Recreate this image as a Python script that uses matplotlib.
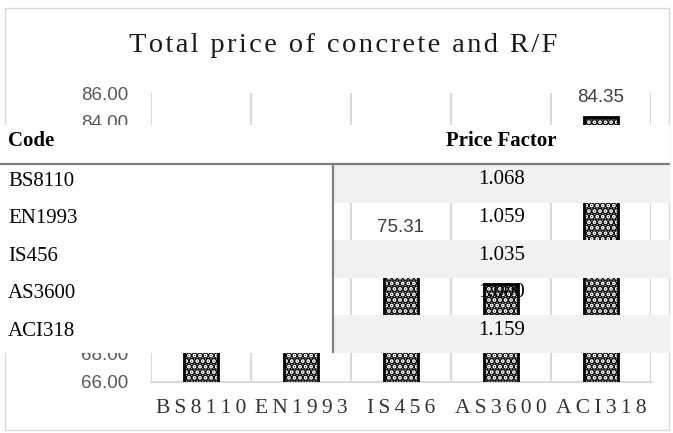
import matplotlib
matplotlib.use("Agg")
import matplotlib.pyplot as plt
from matplotlib.patches import Rectangle

# ---------------- data ----------------
title = "Total price of concrete and R/F"
codes = ["BS8110", "EN1993", "IS456", "AS3600", "ACI318"]
totals = [77.73, 77.07, 75.31, 72.78, 84.35]
factors = ["1.068", "1.059", "1.035", "1.000", "1.159"]
yticks = [66, 68, 70, 72, 74, 76, 78, 80, 82, 84, 86]
header = ["Code", "Price Factor"]
labelled = ["IS456", "ACI318"]   # value labels not covered by the table

W, H = 673, 433
SERIF = ["Liberation Serif", "DejaVu Serif"]
SANS = ["Liberation Sans", "DejaVu Sans"]
plt.rcParams["hatch.linewidth"] = 3.6
plt.rcParams["hatch.color"] = "black"

fig = plt.figure(figsize=(W / 100, H / 100), dpi=100)


def spaced(s, sep):
    return sep.join(s)


# chart-area border
fig.add_artist(Rectangle((5 / W, 3 / H), 664 / W, 422 / H, transform=fig.transFigure,
                         fill=False, edgecolor="#d9d9d9", lw=1, zorder=0))

# ---------------- chart ----------------
ax = fig.add_axes([151 / W, (H - 382) / H, 500 / W, 289 / H])
xs = list(range(len(codes)))
bars = ax.bar(xs, totals, width=0.34, color="white", edgecolor="black",
              hatch="...", lw=2, zorder=3)
ax.set_xlim(-0.5, len(codes) - 0.5)
ax.set_ylim(yticks[0], yticks[-1])
ax.set_yticks(yticks)
ax.set_yticklabels([f"{v:.2f}" for v in yticks], family=SANS, fontsize=13.5, color="#595959")
ax.set_xticks(xs)
ax.set_xticklabels([spaced(c, "\u2009") for c in codes], family=SERIF, fontsize=15.5,
                   color="#333333")
ax.set_xticks([i - 0.5 for i in range(len(codes) + 1)], minor=True)
ax.grid(which="minor", axis="x", color="#d9d9d9", lw=1.5, zorder=0)
ax.tick_params(which="both", length=0)
ax.tick_params(axis="y", pad=16.5)
ax.tick_params(axis="x", pad=12)
for s in ["left", "right", "top"]:
    ax.spines[s].set_visible(False)
ax.spines["bottom"].set_color("#d9d9d9")
ax.spines["bottom"].set_linewidth(1.5)
ax.bar_label(bars, labels=[f"{v:.2f}" if c in labelled else "" for c, v in zip(codes, totals)],
             padding=8, family=SANS, fontsize=13.5, color="#404040")

fig.text(343 / W, 1 - 45 / H, spaced(title, "\u200a"), family=SERIF, fontsize=20.5,
         color="#1a1a1a", ha="center", va="center")

# ---------------- table overlay ----------------
tb = fig.add_axes([0, 0, 1, 1], zorder=10)
tb.set_xlim(0, W)
tb.set_ylim(H, 0)
tb.axis("off")
tb.patch.set_alpha(0)

TW = 670
COLX = 333
HEAD_TOP, HEAD_BOT = 125, 164
ROW_H = 37.6
tb.add_patch(Rectangle((0, HEAD_TOP), TW, HEAD_BOT - HEAD_TOP, fc="white", ec="none"))
tb.text(8, 141, header[0], family=SERIF, fontsize=15, weight="bold", va="center", ha="left")
tb.text((COLX + TW) / 2, 141, header[1], family=SERIF, fontsize=15, weight="bold",
        va="center", ha="center")
for i, (c, f) in enumerate(zip(codes, factors)):
    top = HEAD_BOT + 1 + i * ROW_H
    tb.add_patch(Rectangle((0, top), COLX, ROW_H, fc="white", ec="none"))
    if i % 2 == 0:
        tb.add_patch(Rectangle((COLX, top), TW - COLX, ROW_H, fc="#f2f2f2", ec="none"))
    tb.text(8, top + 16, c, family=SERIF, fontsize=15, va="center", ha="left")
    tb.text((COLX + TW) / 2, top + 15, f, family=SERIF, fontsize=15, va="center", ha="center")
bottom = HEAD_BOT + 1 + len(codes) * ROW_H
tb.plot([0, TW], [HEAD_BOT, HEAD_BOT], color="#7f7f7f", lw=1.6, solid_capstyle="butt")
tb.plot([COLX, COLX], [HEAD_BOT, bottom], color="#7f7f7f", lw=1.6, solid_capstyle="butt")

fig.savefig("out.png", dpi=100)
